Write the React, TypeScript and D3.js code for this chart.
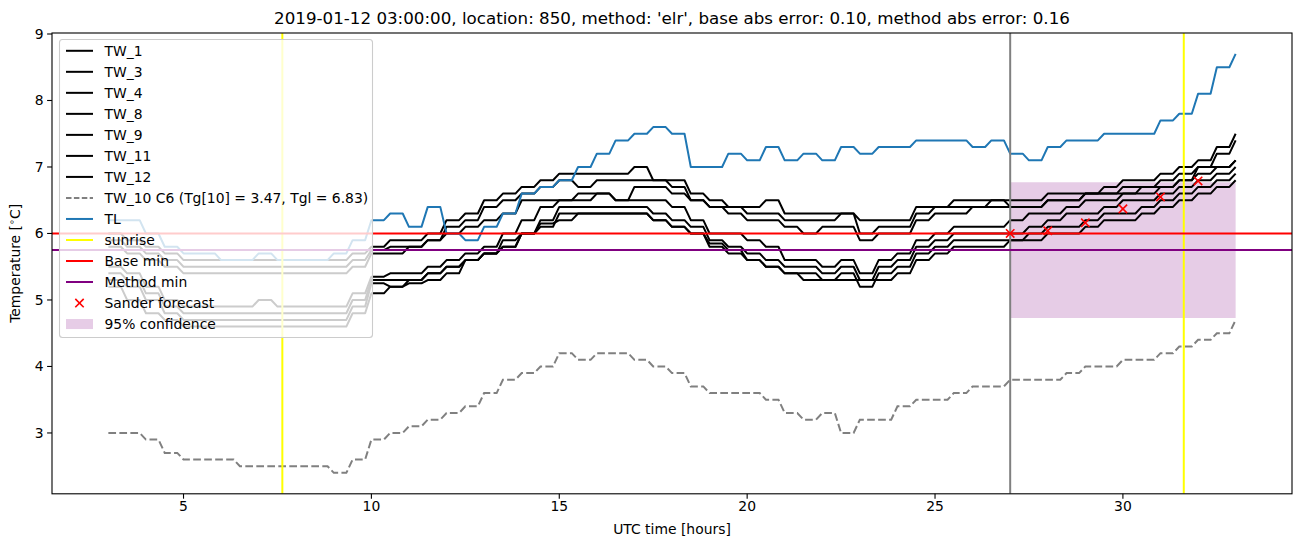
import React from "react";
import * as d3 from "d3";

const TITLE = "2019-01-12 03:00:00, location: 850, method: 'elr', base abs error: 0.10, method abs error: 0.16";

const TIMES = [
  3, 3.5, 4, 4.5, 5, 5.5, 6, 6.5, 7, 7.5, 8, 8.5, 9, 9.5, 10, 10.5, 11, 11.5, 12, 12.5,
  13, 13.5, 14, 14.5, 15, 15.5, 16, 16.5, 17, 17.5, 18, 18.5, 19, 19.5, 20, 20.5, 21, 21.5,
  22, 22.5, 23, 23.5, 24, 24.5, 25, 25.5, 26, 26.5, 27, 27.5, 28, 28.5, 29, 29.5, 30, 30.5,
  31, 31.5, 32, 32.5, 33,
];

const TW_1 = [
  6.0, 5.9, 5.8, 5.7, 5.6, 5.6, 5.6, 5.6, 5.6, 5.6, 5.6, 5.6, 5.6, 5.7,
  5.8, 5.9, 5.9, 6.0, 6.2, 6.3, 6.5, 6.6, 6.7, 6.8,
  6.9, 6.9, 6.9, 6.9, 7.0, 6.8, 6.8, 6.6, 6.5, 6.4,
  6.4, 6.5, 6.3, 6.3, 6.3, 6.3, 6.2, 6.2, 6.2, 6.4,
  6.4, 6.5, 6.5, 6.5, 6.5, 6.5, 6.6, 6.6, 6.6, 6.7,
  6.8, 6.8, 6.9, 7.0, 7.1, 7.3, 7.5,
];
const TW_3 = [
  5.9, 5.8, 5.7, 5.6, 5.5, 5.5, 5.5, 5.5, 5.5, 5.5, 5.5, 5.5, 5.5, 5.6,
  5.75, 5.8, 5.8, 5.9, 6.1, 6.2, 6.4, 6.5, 6.6, 6.7,
  6.8, 6.7, 6.8, 6.8, 6.8, 6.8, 6.7, 6.5, 6.4, 6.4,
  6.3, 6.3, 6.2, 6.2, 6.2, 6.3, 6.0, 6.1, 6.1, 6.3,
  6.4, 6.4, 6.4, 6.5, 6.4, 6.4, 6.5, 6.5, 6.6, 6.6,
  6.7, 6.7, 6.8, 6.9, 7.0, 7.2, 7.4,
];
const TW_4 = [
  5.8, 5.7, 5.6, 5.5, 5.4, 5.4, 5.4, 5.4, 5.4, 5.4, 5.4, 5.4, 5.4, 5.5,
  5.7, 5.7, 5.8, 5.9, 6.0, 6.1, 6.2, 6.3, 6.5, 6.5,
  6.5, 6.6, 6.6, 6.5, 6.7, 6.7, 6.6, 6.5, 6.4, 6.3,
  6.2, 6.2, 6.1, 6.0, 6.1, 6.1, 5.9, 6.0, 6.0, 6.2,
  6.3, 6.3, 6.4, 6.4, 6.4, 6.4, 6.5, 6.5, 6.6, 6.6,
  6.6, 6.7, 6.7, 6.8, 6.9, 7.0, 7.1,
];
const TW_8 = [
  5.5, 5.4, 5.2, 5.0, 4.9, 4.9, 4.9, 4.9, 5.0, 4.9, 4.9, 4.9, 4.9, 5.1,
  5.35, 5.4, 5.4, 5.5, 5.6, 5.7, 5.8, 6.0, 6.2, 6.4,
  6.5, 6.5, 6.6, 6.5, 6.5, 6.5, 6.4, 6.2, 6.0, 6.0,
  5.9, 5.8, 5.6, 5.6, 5.5, 5.6, 5.4, 5.6, 5.7, 5.9,
  6.0, 6.1, 6.1, 6.1, 6.2, 6.3, 6.3, 6.4, 6.5, 6.5,
  6.6, 6.6, 6.7, 6.8, 7.0, 7.0, 7.1,
];
const TW_9 = [
  5.4, 5.3, 5.1, 4.9, 4.8, 4.8, 4.8, 4.8, 4.8, 4.8, 4.8, 4.8, 4.8, 5.0,
  5.3, 5.3, 5.3, 5.4, 5.5, 5.6, 5.7, 5.9, 6.0, 6.2,
  6.4, 6.4, 6.4, 6.4, 6.4, 6.3, 6.2, 6.1, 5.9, 5.8,
  5.7, 5.6, 5.5, 5.5, 5.4, 5.5, 5.3, 5.5, 5.6, 5.8,
  5.9, 6.0, 6.0, 6.0, 6.0, 6.1, 6.2, 6.3, 6.3, 6.4,
  6.5, 6.5, 6.6, 6.7, 6.8, 6.9, 7.0,
];
const TW_11 = [
  5.3, 5.2, 5.0, 4.8, 4.7, 4.7, 4.7, 4.7, 4.7, 4.7, 4.7, 4.7, 4.7, 4.9,
  5.25, 5.2, 5.3, 5.4, 5.5, 5.6, 5.7, 5.8, 6.0, 6.1,
  6.3, 6.3, 6.3, 6.3, 6.3, 6.2, 6.1, 6.0, 5.85, 5.75,
  5.6, 5.5, 5.4, 5.4, 5.3, 5.4, 5.2, 5.4, 5.5, 5.7,
  5.8, 5.9, 5.9, 5.9, 5.9, 6.0, 6.1, 6.1, 6.2, 6.3,
  6.3, 6.4, 6.5, 6.6, 6.7, 6.8, 6.9,
];
const TW_12 = [
  5.2, 5.0, 4.8, 4.7, 4.6, 4.6, 4.6, 4.6, 4.6, 4.6, 4.6, 4.6, 4.6, 4.8,
  5.1, 5.2, 5.25, 5.3, 5.4, 5.6, 5.7, 5.8, 6.0, 6.15,
  6.2, 6.3, 6.3, 6.3, 6.3, 6.2, 6.1, 6.0, 5.8, 5.7,
  5.6, 5.5, 5.4, 5.3, 5.3, 5.3, 5.3, 5.3, 5.4, 5.6,
  5.7, 5.8, 5.8, 5.8, 5.9, 5.9, 6.0, 6.0, 6.1, 6.2,
  6.2, 6.3, 6.4, 6.5, 6.6, 6.7, 6.8,
];
const TW_10 = [
  3.0, 3.0, 2.9, 2.7, 2.6, 2.6, 2.6, 2.5, 2.5, 2.5, 2.5, 2.5, 2.4, 2.6,
  2.9, 3.0, 3.1, 3.2, 3.3, 3.4, 3.6, 3.8, 3.9, 4.0,
  4.2, 4.1, 4.2, 4.2, 4.1, 4.0, 3.9, 3.7, 3.6, 3.6,
  3.6, 3.5, 3.3, 3.2, 3.3, 3.0, 3.2, 3.2, 3.4, 3.5,
  3.5, 3.6, 3.7, 3.7, 3.8, 3.8, 3.8, 3.9, 4.0, 4.0,
  4.1, 4.1, 4.2, 4.3, 4.4, 4.5, 4.7,
];
const TL = [
  6.2, 6.2, 6.0, 5.8, 5.7, 5.7, 5.6, 5.6, 5.7, 5.6, 5.6, 5.6, 5.7, 5.9,
  6.2, 6.3, 6.1, 6.4, 6.0, 5.9, 6.1, 6.3, 6.6, 6.7,
  6.8, 7.0, 7.2, 7.4, 7.5, 7.6, 7.5, 7.0, 7.0, 7.2,
  7.1, 7.3, 7.1, 7.2, 7.1, 7.3, 7.2, 7.3, 7.3, 7.4,
  7.4, 7.4, 7.3, 7.4, 7.2, 7.1, 7.3, 7.4, 7.4, 7.5,
  7.5, 7.5, 7.7, 7.8, 8.1, 8.5, 8.7,
];

const TW_NAMES = ["TW_1", "TW_3", "TW_4", "TW_8", "TW_9", "TW_11", "TW_12"];
const TW_SERIES = [TW_1, TW_3, TW_4, TW_8, TW_9, TW_11, TW_12];
const TW_10_LABEL = "TW_10 C6 (Tg[10] = 3.47, Tgl = 6.83)";

const SUNRISE = [7.63, 31.62];
const NOW = 27;
const BASE_MIN = 6.0;
const METHOD_MIN = 5.75;
const SANDER_T = [27, 28, 29, 30, 31, 32];
const SANDER_V = [6.0, 6.04, 6.16, 6.37, 6.55, 6.79];
const CONF_T = [27, 33];
const CONF_LOW = [4.73, 4.73];
const CONF_HIGH = [6.77, 6.77];

const X_TICKS = [5, 10, 15, 20, 25, 30];
const Y_TICKS = [3, 4, 5, 6, 7, 8, 9];

const LEGEND_ITEMS = [
  ...TW_NAMES.map((n) => ({ label: n, kind: "line", color: "#000000", dash: "" })),
  { label: TW_10_LABEL, kind: "line", color: "#808080", dash: "5.5,2.4" },
  { label: "TL", kind: "line", color: "#1f77b4", dash: "" },
  { label: "sunrise", kind: "line", color: "#ffff00", dash: "" },
  { label: "Base min", kind: "line", color: "#ff0000", dash: "" },
  { label: "Method min", kind: "line", color: "#800080", dash: "" },
  { label: "Sander forecast", kind: "marker", color: "#ff0000", dash: "" },
  { label: "95% confidence", kind: "patch", color: "#e6cce6", dash: "" },
];

const W = 1302;
const H = 547;
const L = 52;
const R = 1292;
const T = 33;
const B = 493.8;
const FONT = "'DejaVu Sans', sans-serif";
const FS = 13.9;

export default function App() {
  const x = d3.scaleLinear().domain([1.5, 34.5]).range([L, R]);
  const y = d3.scaleLinear().domain([2.085, 9.015]).range([B, T]);
  const line = d3
    .line<[number, number]>()
    .x((d) => x(d[0]))
    .y((d) => y(d[1]));
  const STEP = 1 / 6;
  const stepPath = (vals: number[]) => {
    const pts: [number, number][] = [[TIMES[0], vals[0]]];
    for (let i = 1; i < vals.length; i++) {
      if (vals[i] !== vals[i - 1]) pts.push([TIMES[i] - STEP, vals[i - 1]]);
      pts.push([TIMES[i], vals[i]]);
    }
    return line(pts) || "";
  };
  const area = d3
    .area<number>()
    .x((_, i) => x(CONF_T[i]))
    .y0((_, i) => y(CONF_LOW[i]))
    .y1((_, i) => y(CONF_HIGH[i]));

  const lg = { x: 59.5, y: 39.5, w: 313, h: 298 };
  const rowY = (i: number) => 50.8 + i * 21.02;
  const hx0 = 66;
  const hx1 = 93;
  const tx = 104.5;

  return (
    <svg width={W} height={H} style={{ display: "block", position: "absolute", left: 0, top: 0 }} fontFamily={FONT}>
      <rect x={0} y={0} width={W} height={H} fill="#ffffff" />
      <text x={(L + R) / 2} y={24} textAnchor="middle" fontSize={16.7}>
        {TITLE}
      </text>
      <defs>
        <clipPath id="plotclip">
          <rect x={L} y={T} width={R - L} height={B - T} />
        </clipPath>
      </defs>
      <g clipPath="url(#plotclip)">
        <path d={area(CONF_T) || ""} fill="#800080" fillOpacity={0.2} />
        {TW_SERIES.map((s, i) => (
          <path key={i} d={stepPath(s)} fill="none" stroke="#000000" strokeWidth={2} strokeLinejoin="round" />
        ))}
        <path d={stepPath(TW_10)} fill="none" stroke="#808080" strokeWidth={2} strokeDasharray="7.7,3.3" />
        <path d={stepPath(TL)} fill="none" stroke="#1f77b4" strokeWidth={2} strokeLinejoin="round" />
        <line x1={x(NOW)} x2={x(NOW)} y1={T} y2={B} stroke="#808080" strokeWidth={2} />
        {SUNRISE.map((s, i) => (
          <line key={i} x1={x(s)} x2={x(s)} y1={T} y2={B} stroke="#ffff00" strokeWidth={2} />
        ))}
        <line x1={L} x2={R} y1={y(BASE_MIN)} y2={y(BASE_MIN)} stroke="#ff0000" strokeWidth={2} />
        <line x1={L} x2={R} y1={y(METHOD_MIN)} y2={y(METHOD_MIN)} stroke="#800080" strokeWidth={2} />
        {SANDER_T.map((t, i) => {
          const cx = x(t);
          const cy = y(SANDER_V[i]);
          const r = 4.2;
          return (
            <g key={i} stroke="#ff0000" strokeWidth={1.6}>
              <line x1={cx - r} y1={cy - r} x2={cx + r} y2={cy + r} />
              <line x1={cx - r} y1={cy + r} x2={cx + r} y2={cy - r} />
            </g>
          );
        })}
      </g>
      <rect x={L} y={T} width={R - L} height={B - T} fill="none" stroke="#000000" strokeWidth={1.1} />
      {X_TICKS.map((t) => (
        <g key={t}>
          <line x1={x(t)} x2={x(t)} y1={B} y2={B + 4.9} stroke="#000" strokeWidth={1.1} />
          <text x={x(t)} y={B + 17.5} textAnchor="middle" fontSize={FS}>
            {t}
          </text>
        </g>
      ))}
      {Y_TICKS.map((t) => (
        <g key={t}>
          <line x1={L - 4.9} x2={L} y1={y(t)} y2={y(t)} stroke="#000" strokeWidth={1.1} />
          <text x={L - 8.5} y={y(t) + 5} textAnchor="end" fontSize={FS}>
            {t}
          </text>
        </g>
      ))}
      <text x={(L + R) / 2} y={534} textAnchor="middle" fontSize={FS}>
        UTC time [hours]
      </text>
      <text transform={`translate(20, ${(T + B) / 2}) rotate(-90)`} textAnchor="middle" fontSize={FS}>
        Temperature [ 
        <tspan fontSize={9.5} dy={-5}>
          ∘
        </tspan>
        <tspan dy={5}>C]</tspan>
      </text>
      <rect x={lg.x} y={lg.y} width={lg.w} height={lg.h} rx={3} fill="#ffffff" fillOpacity={0.8} stroke="#cccccc" strokeWidth={1.1} />
      {LEGEND_ITEMS.map((it, i) => {
        const cy = rowY(i);
        const mid = (hx0 + hx1) / 2;
        let handle: React.ReactNode = null;
        if (it.kind === "line") {
          handle = (
            <line x1={hx0} x2={hx1} y1={cy} y2={cy} stroke={it.color} strokeWidth={2} strokeDasharray={it.dash || undefined} />
          );
        } else if (it.kind === "marker") {
          const r = 4.2;
          handle = (
            <g stroke={it.color} strokeWidth={1.6}>
              <line x1={mid - r} y1={cy - r} x2={mid + r} y2={cy + r} />
              <line x1={mid - r} y1={cy + r} x2={mid + r} y2={cy - r} />
            </g>
          );
        } else {
          handle = <rect x={hx0} y={cy - 5} width={hx1 - hx0} height={10} fill={it.color} />;
        }
        return (
          <g key={i}>
            {handle}
            <text x={tx} y={cy + 5} fontSize={FS}>
              {it.label}
            </text>
          </g>
        );
      })}
    </svg>
  );
}
